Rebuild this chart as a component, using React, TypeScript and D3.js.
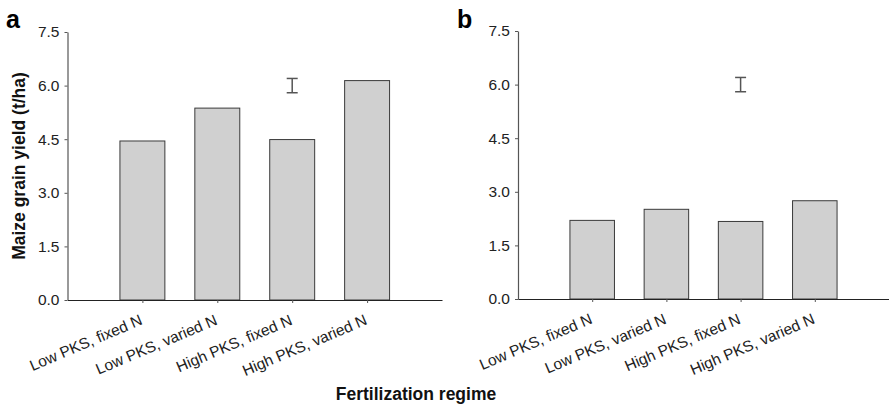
import React, { useEffect, useRef } from 'react';
import * as d3 from 'd3';

const categories = ['Low PKS, fixed N', 'Low PKS, varied N', 'High PKS, fixed N', 'High PKS, varied N'];
const yieldA = [4.45, 5.37, 4.49, 6.14];
const yieldB = [2.2, 2.51, 2.17, 2.75];
const yTicks = [0, 1.5, 3.0, 4.5, 6.0, 7.5];
// error bar (LSD) drawn above the third category
const errA = { at: 2, lo: 5.8, hi: 6.2 };
const errB = { at: 2, lo: 5.8, hi: 6.2 };

const W = 889;
const H = 406;
const FONT = '"Liberation Sans", Arial, sans-serif';

interface Panel {
  label: string;
  values: number[];
  err: { at: number; lo: number; hi: number };
  left: number;
  right: number;
  top: number;
  bottom: number;
  labelX: number;
  labelY: number;
}

const panels: Panel[] = [
  { label: 'a', values: yieldA, err: errA, left: 67.5, right: 442, top: 32, bottom: 300, labelX: 6, labelY: 28 },
  { label: 'b', values: yieldB, err: errB, left: 518, right: 889, top: 31, bottom: 299, labelX: 457, labelY: 28 },
];

const App: React.FC = () => {
  const ref = useRef<SVGSVGElement>(null);

  useEffect(() => {
    if (!ref.current) return;
    const svg = d3.select(ref.current);
    svg.selectAll('*').remove();

    panels.forEach(p => {
      const x = d3.scaleLinear().domain([0, 5]).range([p.left, p.right]);
      const y = d3.scaleLinear().domain([0, 7.5]).range([p.bottom, p.top]);
      const g = svg.append('g');
      const bw = x(0.6) - x(0);

      g.selectAll('rect.bar')
        .data(p.values)
        .enter().append('rect')
        .attr('class', 'bar')
        .attr('x', (d, i) => x(i + 1) - bw / 2)
        .attr('y', d => y(d))
        .attr('width', bw)
        .attr('height', d => y(0) - y(d))
        .attr('fill', '#d0d0d0')
        .attr('stroke', '#3a3a3a')
        .attr('stroke-width', 1);

      // y axis
      const yAxis = d3.axisLeft(y)
        .tickValues(yTicks)
        .tickFormat(d3.format('.1f'))
        .tickSize(3)
        .tickSizeOuter(0);
      const ya = g.append('g')
        .attr('transform', `translate(${p.left},0)`)
        .call(yAxis);
      ya.select('.domain').attr('stroke', '#555').attr('stroke-width', 1.2);
      ya.selectAll('.tick line').attr('stroke', '#555');
      ya.selectAll('.tick text')
        .attr('x', -8)
        .attr('fill', '#222')
        .style('font-family', FONT)
        .style('font-size', '15.5px');

      // x axis
      const xAxis = d3.axisBottom(x)
        .tickValues([1, 2, 3, 4])
        .tickFormat(() => '')
        .tickSize(3)
        .tickSizeOuter(0);
      const xa = g.append('g')
        .attr('transform', `translate(0,${p.bottom})`)
        .call(xAxis);
      xa.select('.domain').attr('stroke', '#222').attr('stroke-width', 1.2);
      xa.selectAll('.tick line').attr('stroke', '#555');

      g.selectAll('text.cat')
        .data(categories)
        .enter().append('text')
        .attr('class', 'cat')
        .attr('text-anchor', 'end')
        .attr('transform', (d, i) => `translate(${x(i + 1) + 1},${p.bottom + 24}) rotate(-23)`)
        .attr('fill', '#222')
        .style('font-family', FONT)
        .style('font-size', '15.5px')
        .text(d => d);

      // error bar
      const ex = x(p.err.at + 1);
      const cap = 5.5;
      const eg = g.append('g').attr('stroke', '#555').attr('stroke-width', 1.5);
      eg.append('line').attr('x1', ex).attr('x2', ex).attr('y1', y(p.err.hi)).attr('y2', y(p.err.lo));
      eg.append('line').attr('x1', ex - cap).attr('x2', ex + cap).attr('y1', y(p.err.hi)).attr('y2', y(p.err.hi));
      eg.append('line').attr('x1', ex - cap).attr('x2', ex + cap).attr('y1', y(p.err.lo)).attr('y2', y(p.err.lo));

      svg.append('text')
        .attr('x', p.labelX)
        .attr('y', p.labelY)
        .style('font-family', FONT)
        .style('font-size', '25px')
        .style('font-weight', 'bold')
        .text(p.label);
    });

    svg.append('text')
      .attr('transform', `translate(25,166) rotate(-90)`)
      .attr('text-anchor', 'middle')
      .style('font-family', FONT)
      .style('font-size', '17.5px')
      .style('font-weight', 'bold')
      .attr('fill', '#111')
      .text('Maize grain yield (t/ha)');

    svg.append('text')
      .attr('x', 416)
      .attr('y', 400)
      .attr('text-anchor', 'middle')
      .style('font-family', FONT)
      .style('font-size', '17.5px')
      .style('font-weight', 'bold')
      .attr('fill', '#111')
      .text('Fertilization regime');
  }, []);

  return (
    <svg
      ref={ref}
      width={W}
      height={H}
      style={{ position: 'absolute', left: 0, top: 0, background: '#fff' }}
    />
  );
};

export default App;
